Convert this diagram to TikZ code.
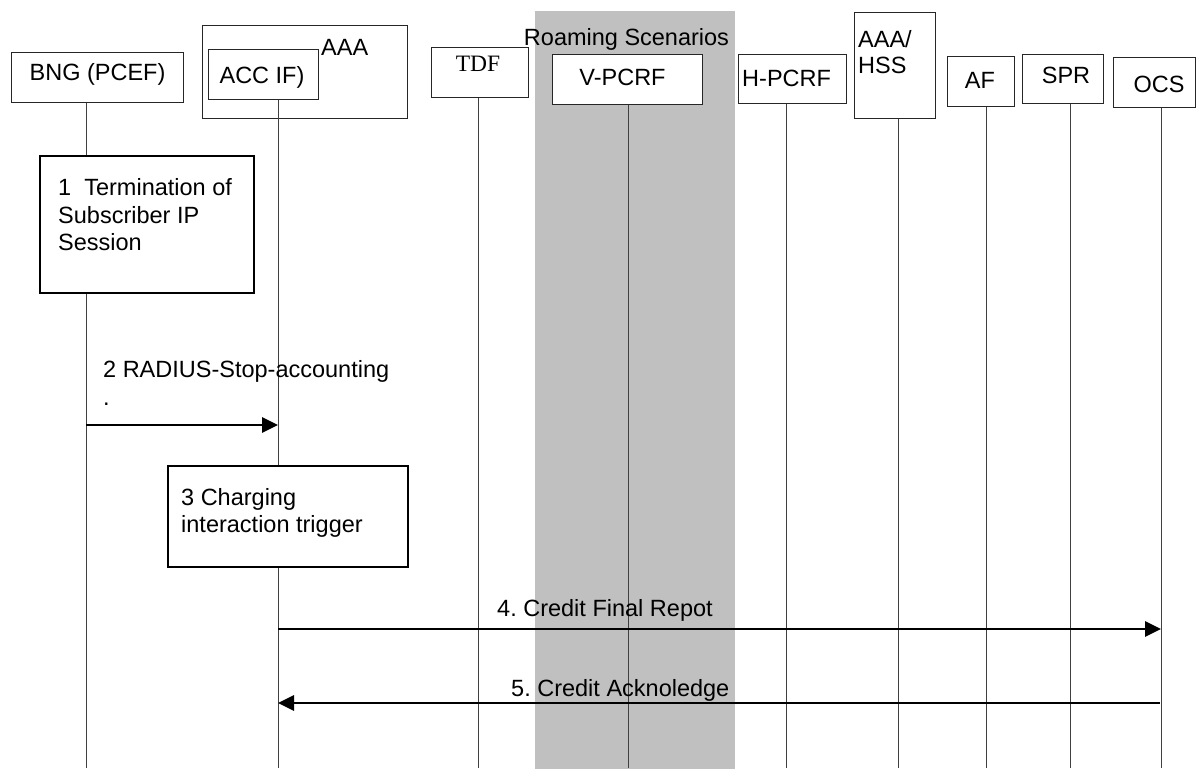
\documentclass[tikz,border=0pt]{standalone}
\usepackage{fontspec}
\setmainfont{Liberation Sans}
\newfontfamily\tdfserif{Liberation Serif}
\usetikzlibrary{arrows.meta}
\definecolor{bandgray}{RGB}{192,192,192}
\frenchspacing
\begin{document}
\begin{tikzpicture}[x=1pt,y=-1pt,
  font=\fontsize{23.5}{27}\selectfont,
  hdr/.style={draw=black!85, line width=1pt, fill=white, inner sep=0pt, anchor=north west},
  actbox/.style={draw=black, line width=1.9pt, fill=white, inner sep=0pt, anchor=north west},
  life/.style={draw=black!75, line width=1pt},
  msg/.style={draw=black, line width=2.9pt, -{Triangle[length=16pt,width=15pt]}},
  lbl/.style={inner sep=0pt, anchor=base west},
  ctr/.style={inner sep=0pt, anchor=base}]
\useasboundingbox (0,0) rectangle (1196,769);
% roaming band
\fill[bandgray] (535,11) rectangle (735,769);
\node[ctr] (roam) at (626.5,45) {Roaming Scenarios};

% bottom ends of lifelines
\coordinate (bngE) at (86,768);
\coordinate (accE) at (278,768);
\coordinate (tdfE) at (478,768);
\coordinate (vpcE) at (628,768);
\coordinate (hpcE) at (786,768);
\coordinate (hssE) at (898,768);
\coordinate (afE)  at (986,768);
\coordinate (sprE) at (1070,768);
\coordinate (ocsE) at (1161,768);

% header boxes
\node[hdr, minimum width=172pt, minimum height=50pt] (bng) at (11,52) {};
\node[hdr, minimum width=205pt, minimum height=93pt] (aaa) at (202,25) {};
\node[hdr, minimum width=110pt, minimum height=50pt] (acc) at (208,49) {};
\node[hdr, minimum width=97pt,  minimum height=50pt] (tdf) at (431,47) {};
\node[hdr, minimum width=150pt, minimum height=50pt] (vpc) at (552,54) {};
\node[hdr, minimum width=108pt, minimum height=49pt] (hpc) at (738,54) {};
\node[hdr, minimum width=81pt,  minimum height=106pt] (hss) at (854,12) {};
\node[hdr, minimum width=67pt,  minimum height=50pt] (af)  at (947,56) {};
\node[hdr, minimum width=81pt,  minimum height=49pt] (spr) at (1022,54) {};
\node[hdr, minimum width=82pt,  minimum height=50pt] (ocs) at (1113,57) {};

% header texts
\node[ctr] (tbng) at (97.5,80) {BNG (PCEF)};
\node[lbl] (taaa) at (321,55) {AAA};
\node[ctr] (tacc) at (262,83) {ACC IF)};
\node[ctr] (ttdf) at (478,71) {\tdfserif TDF};
\node[ctr] (tvpc) at (622.5,85) {V-PCRF};
\node[lbl] (thpc) at (742,86) {H-PCRF};
\node[lbl] (thss1) at (858,47) {AAA/};
\node[lbl] (thss2) at (858,73) {HSS};
\node[ctr] (taf)  at (980,88) {AF};
\node[ctr] (tspr) at (1066,83) {SPR};
\node[ctr] (tocs) at (1159,92) {OCS};

% lifelines
\draw[life] (bng.south -| bngE) -- (bngE);
\draw[life] (acc.south -| accE) -- (accE);
\draw[life] (tdf.south -| tdfE) -- (tdfE);
\draw[life] (vpc.south -| vpcE) -- (vpcE);
\draw[life] (hpc.south -| hpcE) -- (hpcE);
\draw[life] (hss.south -| hssE) -- (hssE);
\draw[life] (af.south -| afE) -- (afE);
\draw[life] (spr.south -| sprE) -- (sprE);
\draw[life] (ocs.south -| ocsE) -- (ocsE);

% action boxes
\node[actbox, minimum width=214pt, minimum height=137pt] (s1) at (39,155) {};
\node[lbl] (s1a) at (58,195) {1\ \ Termination of};
\node[lbl] (s1b) at (58,223) {Subscriber IP};
\node[lbl] (s1c) at (58,250) {Session};

\node[actbox, minimum width=240pt, minimum height=101pt] (s3) at (167,465) {};
\node[lbl] (s3a) at (181,505) {3 Charging};
\node[lbl] (s3b) at (181,532) {interaction trigger};

% messages
\coordinate (m2a) at (86,425);
\coordinate (m2b) at (278,425);
\draw[msg] (m2a) -- (m2b);
\node[lbl] (l2a) at (103,377) {2 RADIUS-Stop-accounting};
\node[lbl] (l2b) at (103,405) {.};

\coordinate (m4a) at (278,629);
\coordinate (m4b) at (1161,629);
\draw[msg] (m4a) -- (m4b);
\node[lbl] (l4) at (497,616) {4. Credit Final Repot};

\coordinate (m5a) at (1160,703);
\coordinate (m5b) at (278,703);
\draw[msg] (m5a) -- (m5b);
\node[lbl] (l5) at (511,696) {5. Credit Acknoledge};
\end{tikzpicture}
\end{document}
